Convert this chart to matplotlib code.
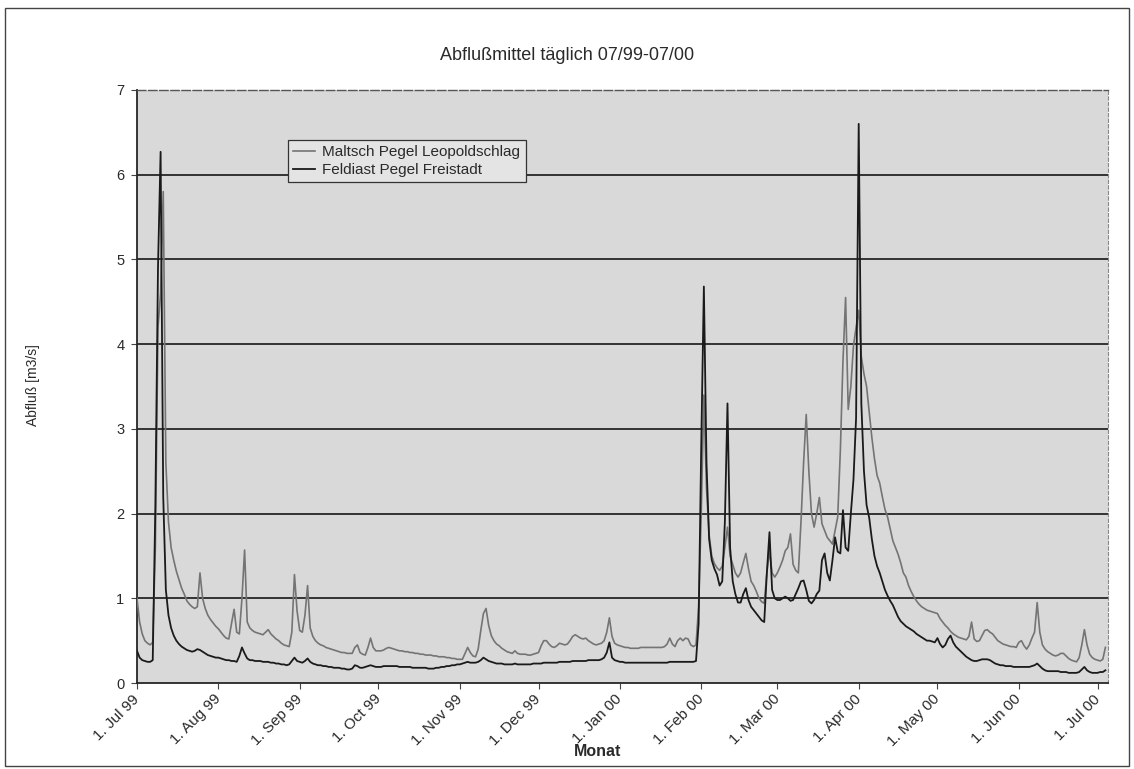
import numpy as np
import matplotlib
matplotlib.use("Agg")
import matplotlib.pyplot as plt
from matplotlib.transforms import ScaledTranslation
from matplotlib.patches import Rectangle

plt.rcParams['font.family'] = ['Liberation Sans', 'DejaVu Sans']

# Daily mean discharge [m3/s], one list per month, starting 1 Jul 1999
maltsch_jul99 = [1.0, 0.72, 0.58, 0.5, 0.47, 0.45, 0.48, 1.6, 4.2, 4.6, 5.8, 2.6, 1.9, 1.6, 1.45,
                 1.32, 1.22, 1.12, 1.05, 0.97, 0.93, 0.9, 0.88, 0.9, 1.3, 1.0, 0.88, 0.8, 0.75, 0.71, 0.67]
maltsch_aug99 = [0.64, 0.6, 0.56, 0.53, 0.52, 0.7, 0.87, 0.6, 0.58, 1.0, 1.57, 0.72, 0.65, 0.62, 0.6,
                 0.59, 0.58, 0.57, 0.6, 0.63, 0.58, 0.55, 0.52, 0.5, 0.47, 0.45, 0.44, 0.43, 0.6, 1.28, 0.85]
maltsch_sep99 = [0.62, 0.6, 0.8, 1.15, 0.65, 0.55, 0.5, 0.47, 0.45, 0.44, 0.42, 0.41, 0.4, 0.39, 0.38,
                 0.37, 0.36, 0.36, 0.35, 0.35, 0.35, 0.42, 0.45, 0.36, 0.34, 0.33, 0.42, 0.53, 0.42, 0.38]
maltsch_oct99 = [0.38, 0.38, 0.39, 0.41, 0.42, 0.41, 0.4, 0.39, 0.38, 0.38, 0.37, 0.37, 0.36, 0.36, 0.35,
                 0.35, 0.34, 0.34, 0.33, 0.33, 0.33, 0.32, 0.32, 0.31, 0.31, 0.31, 0.3, 0.3, 0.29, 0.29, 0.28]
maltsch_nov99 = [0.28, 0.28, 0.35, 0.42, 0.36, 0.32, 0.31, 0.4, 0.62, 0.82, 0.88, 0.68, 0.56, 0.5, 0.46,
                 0.44, 0.41, 0.39, 0.37, 0.36, 0.35, 0.38, 0.35, 0.34, 0.34, 0.34, 0.33, 0.33, 0.34, 0.35]
maltsch_dec99 = [0.36, 0.44, 0.5, 0.5, 0.46, 0.43, 0.42, 0.44, 0.47, 0.46, 0.45, 0.46, 0.5, 0.55, 0.57,
                 0.55, 0.53, 0.52, 0.53, 0.5, 0.48, 0.46, 0.45, 0.46, 0.47, 0.5, 0.6, 0.77, 0.55, 0.47, 0.45]
maltsch_jan00 = [0.44, 0.43, 0.42, 0.42, 0.41, 0.41, 0.41, 0.41, 0.42, 0.42, 0.42, 0.42, 0.42, 0.42, 0.42,
                 0.42, 0.42, 0.43, 0.46, 0.53, 0.46, 0.43, 0.5, 0.53, 0.5, 0.53, 0.52, 0.45, 0.43, 0.45, 0.9]
maltsch_feb00 = [2.0, 3.4, 2.3, 1.75, 1.5, 1.41, 1.36, 1.33, 1.38, 1.6, 1.84, 1.5, 1.4, 1.3, 1.25,
                 1.3, 1.42, 1.53, 1.35, 1.2, 1.15, 1.08, 1.0, 0.96, 0.94, 1.3, 1.56, 1.3, 1.25]
maltsch_mar00 = [1.3, 1.37, 1.45, 1.56, 1.6, 1.76, 1.4, 1.33, 1.3, 1.9, 2.6, 3.17, 2.5, 2.0, 1.84,
                 2.0, 2.19, 1.88, 1.8, 1.72, 1.68, 1.64, 1.8, 1.96, 2.74, 3.8, 4.55, 3.23, 3.5, 3.98, 4.2]
maltsch_apr00 = [4.4, 3.85, 3.65, 3.5, 3.2, 2.9, 2.65, 2.45, 2.36, 2.2, 2.05, 1.96, 1.82, 1.68, 1.6,
                 1.52, 1.42, 1.3, 1.25, 1.15, 1.08, 1.02, 0.97, 0.93, 0.9, 0.88, 0.86, 0.85, 0.84, 0.83]
maltsch_may00 = [0.82, 0.76, 0.72, 0.68, 0.65, 0.61, 0.58, 0.56, 0.54, 0.53, 0.52, 0.51, 0.55, 0.72, 0.52,
                 0.49, 0.5, 0.56, 0.62, 0.63, 0.6, 0.58, 0.54, 0.5, 0.48, 0.46, 0.45, 0.44, 0.43, 0.43, 0.42]
maltsch_jun00 = [0.48, 0.5, 0.44, 0.4, 0.45, 0.53, 0.6, 0.95, 0.6, 0.45, 0.4, 0.37, 0.35, 0.33, 0.32,
                 0.33, 0.35, 0.35, 0.32, 0.29, 0.27, 0.26, 0.25, 0.3, 0.45, 0.63, 0.45, 0.34, 0.3, 0.28]
maltsch_jul00 = [0.27, 0.26, 0.28, 0.42]

feldiast_jul99 = [0.38, 0.3, 0.27, 0.26, 0.25, 0.25, 0.27, 2.1, 4.9, 6.27, 2.2, 1.1, 0.8, 0.65, 0.56,
                  0.5, 0.46, 0.43, 0.41, 0.39, 0.38, 0.37, 0.38, 0.4, 0.39, 0.37, 0.35, 0.33, 0.32, 0.31, 0.3]
feldiast_aug99 = [0.3, 0.29, 0.28, 0.27, 0.27, 0.26, 0.26, 0.25, 0.32, 0.42, 0.35, 0.29, 0.27, 0.27, 0.26,
                  0.26, 0.26, 0.25, 0.25, 0.25, 0.24, 0.24, 0.23, 0.23, 0.22, 0.22, 0.21, 0.22, 0.26, 0.3, 0.26]
feldiast_sep99 = [0.25, 0.24, 0.26, 0.29, 0.25, 0.23, 0.22, 0.21, 0.21, 0.2, 0.2, 0.19, 0.19, 0.18, 0.18,
                  0.18, 0.17, 0.17, 0.16, 0.16, 0.17, 0.21, 0.2, 0.18, 0.18, 0.19, 0.2, 0.21, 0.2, 0.19]
feldiast_oct99 = [0.19, 0.19, 0.2, 0.2, 0.2, 0.2, 0.2, 0.2, 0.19, 0.19, 0.19, 0.19, 0.19, 0.18, 0.18,
                  0.18, 0.18, 0.18, 0.18, 0.17, 0.17, 0.17, 0.18, 0.18, 0.19, 0.19, 0.2, 0.2, 0.21, 0.21, 0.22]
feldiast_nov99 = [0.22, 0.23, 0.24, 0.25, 0.24, 0.24, 0.24, 0.25, 0.27, 0.3, 0.28, 0.26, 0.25, 0.24, 0.23,
                  0.23, 0.23, 0.22, 0.22, 0.22, 0.22, 0.23, 0.22, 0.22, 0.22, 0.22, 0.22, 0.22, 0.23, 0.23]
feldiast_dec99 = [0.23, 0.23, 0.24, 0.24, 0.24, 0.24, 0.24, 0.24, 0.25, 0.25, 0.25, 0.25, 0.25, 0.26, 0.26,
                  0.26, 0.26, 0.26, 0.26, 0.27, 0.27, 0.27, 0.27, 0.27, 0.28, 0.3, 0.36, 0.48, 0.3, 0.27, 0.26]
feldiast_jan00 = [0.25, 0.25, 0.24, 0.24, 0.24, 0.24, 0.24, 0.24, 0.24, 0.24, 0.24, 0.24, 0.24, 0.24, 0.24,
                  0.24, 0.24, 0.24, 0.24, 0.25, 0.25, 0.25, 0.25, 0.25, 0.25, 0.25, 0.25, 0.25, 0.25, 0.26, 0.7]
feldiast_feb00 = [2.8, 4.68, 2.6, 1.7, 1.45, 1.35, 1.28, 1.15, 1.2, 1.9, 3.3, 1.6, 1.2, 1.05, 0.95,
                  0.95, 1.05, 1.12, 0.98, 0.9, 0.86, 0.82, 0.78, 0.74, 0.72, 1.3, 1.78, 1.1, 1.0]
feldiast_mar00 = [0.98, 0.98, 1.0, 1.02, 1.0, 0.97, 0.98, 1.05, 1.12, 1.2, 1.21, 1.1, 0.97, 0.94, 0.98,
                  1.05, 1.09, 1.45, 1.53, 1.3, 1.21, 1.45, 1.72, 1.55, 1.53, 2.04, 1.6, 1.56, 2.0, 2.4, 3.13]
feldiast_apr00 = [6.6, 3.3, 2.5, 2.1, 1.95, 1.7, 1.5, 1.38, 1.3, 1.2, 1.1, 1.03, 0.97, 0.92, 0.85,
                  0.78, 0.73, 0.7, 0.67, 0.65, 0.63, 0.61, 0.58, 0.56, 0.54, 0.52, 0.5, 0.5, 0.49, 0.48]
feldiast_may00 = [0.53, 0.46, 0.42, 0.45, 0.52, 0.56, 0.48, 0.43, 0.4, 0.37, 0.34, 0.31, 0.29, 0.27, 0.26,
                  0.26, 0.27, 0.28, 0.28, 0.28, 0.27, 0.25, 0.23, 0.22, 0.21, 0.21, 0.2, 0.2, 0.2, 0.19, 0.19]
feldiast_jun00 = [0.19, 0.19, 0.19, 0.19, 0.19, 0.2, 0.21, 0.23, 0.2, 0.17, 0.15, 0.14, 0.14, 0.14, 0.14,
                  0.14, 0.13, 0.13, 0.13, 0.12, 0.12, 0.12, 0.12, 0.13, 0.16, 0.19, 0.15, 0.13, 0.12, 0.12]
feldiast_jul00 = [0.12, 0.13, 0.13, 0.15]

series_names = ["Maltsch Pegel Leopoldschlag", "Feldiast Pegel Freistadt"]
tick_labels = ["1. Jul 99", "1. Aug 99", "1. Sep 99", "1. Oct 99", "1. Nov 99", "1. Dec 99",
               "1. Jan 00", "1. Feb 00", "1. Mar 00", "1. Apr 00", "1. May 00", "1. Jun 00", "1. Jul 00"]
y_ticks = [0, 1, 2, 3, 4, 5, 6, 7]

maltsch = np.array(maltsch_jul99 + maltsch_aug99 + maltsch_sep99 + maltsch_oct99 + maltsch_nov99
                   + maltsch_dec99 + maltsch_jan00 + maltsch_feb00 + maltsch_mar00 + maltsch_apr00
                   + maltsch_may00 + maltsch_jun00 + maltsch_jul00)
feldiast = np.array(feldiast_jul99 + feldiast_aug99 + feldiast_sep99 + feldiast_oct99 + feldiast_nov99
                    + feldiast_dec99 + feldiast_jan00 + feldiast_feb00 + feldiast_mar00 + feldiast_apr00
                    + feldiast_may00 + feldiast_jun00 + feldiast_jul00)

start = np.datetime64("1999-07-01")
days = start + np.arange(len(maltsch))
month_starts = np.arange(np.datetime64("1999-07"), np.datetime64("2000-08"),
                         dtype="datetime64[M]").astype("datetime64[D]")

text_color = "#2a2a2a"

fig = plt.figure(figsize=(11.34, 7.69), dpi=100)
ax = fig.add_axes([0.1208, 0.1118, 0.8563, 0.7712])
ax.set_facecolor("#d9d9d9")

for y in y_ticks[1:-1]:
    ax.axhline(y, color="#262626", lw=1.3, zorder=1)

ax.plot(days, maltsch, color="#747474", lw=1.2, label=series_names[0], zorder=3)
ax.plot(days, feldiast, color="#1a1a1a", lw=1.3, label=series_names[1], zorder=4)

ax.set_xlim(start, np.datetime64("2000-07-05"))
ax.set_ylim(0, 7)
ax.set_yticks(y_ticks)
ax.set_yticklabels([str(v) for v in y_ticks], fontsize=10.5, color=text_color)
ax.set_xticks(month_starts)
ax.set_xticklabels(tick_labels, rotation=45, ha="right", va="center",
                   rotation_mode="anchor", fontsize=11, color=text_color)
shift = ScaledTranslation(0.15, 0.0, fig.dpi_scale_trans)
for lbl in ax.get_xticklabels():
    lbl.set_transform(lbl.get_transform() + shift)
ax.tick_params(axis="x", direction="out", length=4, width=0.8, pad=6, color="#444444")
ax.tick_params(axis="y", direction="out", length=4, width=0.8, pad=5, color="#444444")

for side in ("left", "bottom"):
    ax.spines[side].set_color("#262626")
    ax.spines[side].set_linewidth(1.3)
ax.spines["top"].set_color("#555555")
ax.spines["top"].set_linewidth(1.0)
ax.spines["top"].set_linestyle((0, (6, 2)))
ax.spines["right"].set_color("#888888")
ax.spines["right"].set_linewidth(0.8)
ax.spines["right"].set_linestyle((0, (3, 2)))

leg = ax.legend(loc="upper left", bbox_to_anchor=(0.1555, 0.9157), borderaxespad=0.0,
                fontsize=11, frameon=True, fancybox=False, handlelength=1.4, borderpad=0.35,
                labelspacing=0.25, handletextpad=0.5)
leg.get_frame().set_edgecolor("#333333")
leg.get_frame().set_linewidth(0.9)
leg.get_frame().set_facecolor("#e4e4e4")
leg.get_frame().set_alpha(1.0)
for t in leg.get_texts():
    t.set_color(text_color)

fig.text(0.5, 1 - 55 / 769, "Abflußmittel täglich 07/99-07/00", ha="center", va="center",
         fontsize=13, color=text_color)
fig.text(33 / 1134, 1 - 385 / 769, "Abfluß [m3/s]", rotation=90, ha="center", va="center",
         fontsize=10, color=text_color)
fig.text(598 / 1134, 1 - 752 / 769, "Monat", ha="center", va="center",
         fontsize=11.5, fontweight="bold", color=text_color)

fig.patches.append(Rectangle((0.004, 0.004), 0.992, 0.985, transform=fig.transFigure,
                             fill=False, edgecolor="#444444", lw=1.0))

fig.savefig("out.png", dpi=100)
